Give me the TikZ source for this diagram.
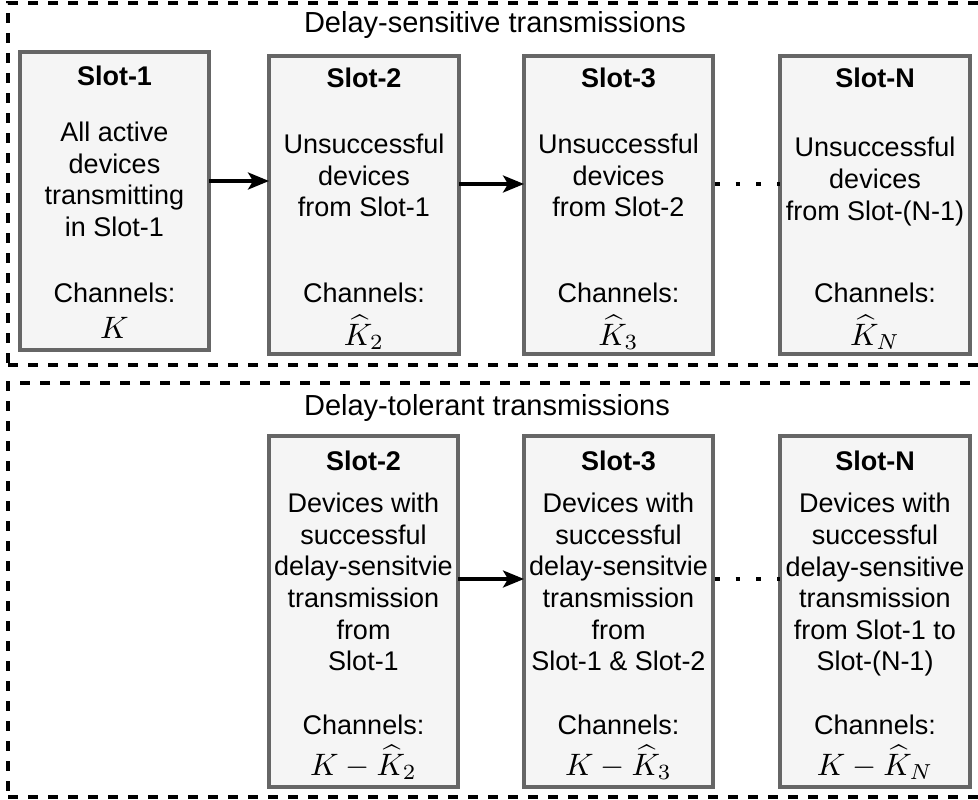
\documentclass[tikz,border=0pt]{standalone}
\usepackage[no-math]{fontspec}
\setmainfont{Liberation Sans}
\usetikzlibrary{arrows.meta}
\definecolor{slotfill}{HTML}{F5F5F5}
\definecolor{slotline}{HTML}{666666}
% math labels set at 10pt and enlarged
\newcommand{\chanmath}[1]{\scalebox{3.1}{$#1$}}
\begin{document}
\begin{tikzpicture}[x=1pt,y=-1pt,
  slotbox/.style={draw=slotline, fill=slotfill, line width=3.2pt, inner sep=0pt, outer sep=0pt},
  group/.style={draw=black, line width=3.3pt, dash pattern=on 10pt off 10pt, inner sep=0pt, outer sep=0pt},
  grouptitle/.style={font=\fontsize{29}{33}\selectfont, inner sep=0pt, anchor=base},
  slottitle/.style={font=\fontsize{27}{31.6}\selectfont\bfseries, inner sep=0pt, anchor=base},
  slottext/.style={font=\fontsize{27}{31.6}\selectfont, align=center, inner sep=0pt},
  chanlbl/.style={font=\fontsize{27}{31.6}\selectfont, inner sep=0pt, anchor=base},
  mathlbl/.style={inner sep=0pt, anchor=base},
  flow/.style={-{Stealth[length=21pt,width=17pt,inset=5pt]}, line width=3.2pt},
  gap/.style={line width=4.5pt, dash pattern=on 4.5pt off 16.2pt, dash phase=-2pt}
]
\useasboundingbox (0,0) rectangle (978,800);
\clip (0,0) rectangle (978,800);

% groups
\node[group, minimum width=974pt, minimum height=362pt] (gsens) at (495,184) {};
\node[group, minimum width=974pt, minimum height=414pt] (gtol) at (495,590) {};
\node[grouptitle] (gsenst) at (495,33) {Delay-sensitive transmissions};
\node[grouptitle] (gtolt) at (487,415) {Delay-tolerant transmissions};

% delay-sensitive slots
\node[slotbox, minimum width=189pt, minimum height=298pt] (ds1) at (114.5,201) {};
\node[slotbox, minimum width=190pt, minimum height=298pt] (ds2) at (364,205) {};
\node[slotbox, minimum width=189pt, minimum height=298pt] (ds3) at (618.5,205) {};
\node[slotbox, minimum width=190pt, minimum height=298pt] (dsN) at (875,205) {};

\node[slottitle] (ds1t) at (114.5,85) {Slot-1};
\node[slottitle] (ds2t) at (364,88) {Slot-2};
\node[slottitle] (ds3t) at (618.5,88) {Slot-3};
\node[slottitle] (dsNt) at (875,88) {Slot-N};

\node[slottext] (ds1b) at (114.5,179.4) {All active\\devices\\transmitting\\in Slot-1};
\node[slottext] (ds2b) at (364,175.7) {Unsuccessful\\devices\\from Slot-1};
\node[slottext] (ds3b) at (618.5,175.7) {Unsuccessful\\devices\\from Slot-2};
\node[slottext] (dsNb) at (875,181.5) {Unsuccessful\\devices\\from Slot-(N-1)};

\node[chanlbl] (ds1c) at (114.5,302) {Channels:};
\node[chanlbl] (ds2c) at (364,302) {Channels:};
\node[chanlbl] (ds3c) at (618.5,302) {Channels:};
\node[chanlbl] (dsNc) at (875,302) {Channels:};

\node[mathlbl] (ds1k) at (114.5,338) {\chanmath{K}};
\node[mathlbl] (ds2k) at (364,345) {\chanmath{\widehat{K}_2}};
\node[mathlbl] (ds3k) at (618.5,345) {\chanmath{\widehat{K}_3}};
\node[mathlbl] (dsNk) at (875,345) {\chanmath{\widehat{K}_N}};

% delay-tolerant slots
\node[slotbox, minimum width=189pt, minimum height=351pt] (dt2) at (363.5,611.5) {};
\node[slotbox, minimum width=189pt, minimum height=351pt] (dt3) at (618.5,611.5) {};
\node[slotbox, minimum width=190pt, minimum height=351pt] (dtN) at (875,611.5) {};

\node[slottitle] (dt2t) at (363.5,470) {Slot-2};
\node[slottitle] (dt3t) at (618.5,470) {Slot-3};
\node[slottitle] (dtNt) at (875,470) {Slot-N};

\node[slottext] (dt2b) at (363.5,582) {Devices with\\successful\\delay-sensitvie\\transmission\\from\\Slot-1};
\node[slottext] (dt3b) at (618.5,582) {Devices with\\successful\\delay-sensitvie\\transmission\\from\\Slot-1 \& Slot-2};
\node[slottext] (dtNb) at (875,585) {Devices with\\successful\\delay-sensitive\\transmission\\from Slot-1 to\\Slot-(N-1)};

\node[chanlbl] (dt2c) at (363.5,734) {Channels:};
\node[chanlbl] (dt3c) at (618.5,734) {Channels:};
\node[chanlbl] (dtNc) at (875,734) {Channels:};

\node[mathlbl] (dt2k) at (363.5,775) {\chanmath{K-\widehat{K}_2}};
\node[mathlbl] (dt3k) at (618.5,775) {\chanmath{K-\widehat{K}_3}};
\node[mathlbl] (dtNk) at (875,775) {\chanmath{K-\widehat{K}_N}};

% connectors
\coordinate (r1) at (0,181);
\coordinate (r2) at (0,184);
\coordinate (r3) at (0,579);
\draw[flow] (ds1.east |- r1) -- (ds2.west |- r1);
\draw[flow] (ds2.east |- r2) -- (ds3.west |- r2);
\draw[gap] (ds3.east |- r2) -- (dsN.west |- r2);
\draw[flow] (dt2.east |- r3) -- (dt3.west |- r3);
\draw[gap] (dt3.east |- r3) -- (dtN.west |- r3);
\end{tikzpicture}
\end{document}
